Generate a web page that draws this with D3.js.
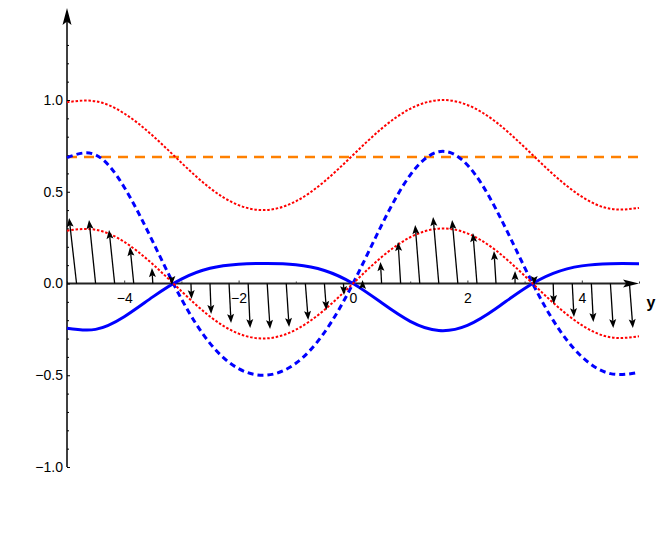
<!DOCTYPE html>
<html>
<head>
<meta charset="utf-8">
<script src="https://cdn.jsdelivr.net/npm/d3@7"></script>
<style>
body { margin: 0; background: #fff; }
text { font-family: "Liberation Sans", Arial, sans-serif; }
</style>
</head>
<body>
<div id="chart"></div>
<script>
/*
    Default variables
*/
var width = 664;
var height = 533;

/* sample positions along y, and the curves */
var xs = [-5, -4.5, -4, -3.5, -3, -2.5, -2, -1.5, -1, -0.5, 0, 0.5, 1, 1.5, 2, 2.5, 3, 3.5, 4, 4.5, 5];
var surface = [0.988, 0.993, 0.927, 0.805, 0.658, 0.520, 0.427, 0.401, 0.448, 0.556, 0.700, 0.844, 0.952, 0.999, 0.973, 0.880, 0.742, 0.595, 0.473, 0.407, 0.412];
var meanLevel = [0.69, 0.69];
var meanX = [-5, 5];
var elevation = [0.288, 0.293, 0.227, 0.105, -0.042, -0.180, -0.273, -0.299, -0.252, -0.144, 0, 0.144, 0.252, 0.299, 0.273, 0.180, 0.042, -0.105, -0.227, -0.293, -0.288];
var blueDashed = [0.686, 0.701, 0.525, 0.228, -0.084, -0.326, -0.464, -0.499, -0.435, -0.267, 0, 0.318, 0.591, 0.718, 0.646, 0.405, 0.088, -0.201, -0.399, -0.491, -0.484];
var blueSolid = [-0.244, -0.250, -0.181, -0.073, 0.024, 0.083, 0.105, 0.109, 0.102, 0.071, 0, -0.105, -0.206, -0.256, -0.228, -0.136, -0.027, 0.055, 0.096, 0.108, 0.108];

/* the little arrows sitting on the axis */
var arrowX = [-4.833, -4.5, -4.167, -3.833, -3.5, -3.167, -2.833, -2.5, -2.167, -1.833, -1.5, -1.167, -0.833, -0.5, -0.167,
              0.167, 0.5, 0.833, 1.167, 1.5, 1.833, 2.167, 2.5, 2.833, 3.167, 3.5, 3.833, 4.167, 4.5, 4.833];
var arrowU = [-0.13, -0.115, -0.098, -0.065, -0.015, 0, 0.01, 0.02, 0.035, 0.035, 0.05, 0.05, 0.05, 0.035, 0.01,
              0, -0.02, -0.045, -0.08, -0.1, -0.1, -0.07, -0.035, 0, 0, 0.01, 0.03, 0.035, 0.05, 0.06];
var arrowV = [0.357, 0.346, 0.292, 0.199, 0.084, -0.008, -0.085, -0.166, -0.215, -0.243, -0.248, -0.237, -0.199, -0.144, -0.063,
              0.019, 0.117, 0.226, 0.319, 0.362, 0.346, 0.275, 0.177, 0.068, -0.008, -0.112, -0.183, -0.21, -0.243, -0.243];

/* ticks */
var xMajorTicks = [-4, -2, 0, 2, 4];
var xMinorTicks = [-5, -3, -1, 1, 3, 5];
var xTickLabels = ["\u22124", "\u22122", "0", "2", "4"];
var yMajorTicks = [-1, -0.5, 0, 0.5, 1];
var yMinorTicks = [-0.9, -0.8, -0.7, -0.6, -0.4, -0.3, -0.2, -0.1, 0.1, 0.2, 0.3, 0.4, 0.6, 0.7, 0.8, 0.9, 1.1, 1.2, 1.3];
var yTickLabels = ["\u22121.0", "\u22120.5", "0.0", "0.5", "1.0"];

var x = d3.scaleLinear().domain([-5, 5]).range([67, 639]);
var y = d3.scaleLinear().domain([-1, 1]).range([467, 100]);

var svg = d3.select("#chart")
    .append("svg")
    .attr("width", width)
    .attr("height", height);

/* arrow head polygon with a small notch at the back */
function headPoints(tx, ty, dx, dy, len, half) {
    var n = Math.sqrt(dx * dx + dy * dy) || 1;
    var ux = dx / n, uy = dy / n;
    var bx = tx - ux * len, by = ty - uy * len;
    return [
        [tx, ty],
        [bx - uy * half, by + ux * half],
        [tx - ux * len * 0.8, ty - uy * len * 0.8],
        [bx + uy * half, by - ux * half]
    ];
}

/*
    Axes
*/
var gx = svg.append("g").attr("transform", "translate(0," + y(0) + ")");
gx.append("line")
    .attr("x1", x(-5)).attr("x2", x(5) - 12)
    .attr("stroke", "#222").attr("stroke-width", 2);
gx.append("polygon")
    .attr("points", headPoints(x(5), 0, 1, 0, 16, 4).join(" "))
    .attr("fill", "#000");

var xMinor = d3.axisBottom(x).tickValues(xMinorTicks).tickSizeInner(-2).tickSizeOuter(0).tickFormat("");
var xMajor = d3.axisBottom(x).tickValues(xMajorTicks).tickSizeInner(-3).tickSizeOuter(0).tickPadding(10)
    .tickFormat(function (d, i) { return xTickLabels[i]; });
gx.append("g").call(xMinor);
gx.append("g").call(xMajor);
gx.selectAll(".domain").remove();
gx.selectAll(".tick line").attr("stroke", "#333").attr("stroke-width", 1);
gx.selectAll(".tick text")
    .style("font-size", "14px")
    .style("font-family", "'Liberation Sans', Arial, sans-serif")
    .attr("fill", "#000");

gx.append("text")
    .attr("x", 651).attr("y", 24)
    .attr("text-anchor", "middle")
    .style("font-size", "16px")
    .attr("font-weight", "bold")
    .text("y");

var gy = svg.append("g").attr("transform", "translate(" + x(-5) + ",0)");
gy.append("line")
    .attr("y1", y(-1)).attr("y2", 20)
    .attr("stroke", "#000").attr("stroke-width", 1.5);
gy.append("polygon")
    .attr("points", headPoints(0, 8, 0, -1, 17, 4.5).join(" "))
    .attr("fill", "#000");

var yMinor = d3.axisLeft(y).tickValues(yMinorTicks).tickSizeInner(-2).tickSizeOuter(0).tickFormat("");
var yMajor = d3.axisLeft(y).tickValues(yMajorTicks).tickSizeInner(-3).tickSizeOuter(0).tickPadding(4)
    .tickFormat(function (d, i) { return yTickLabels[i]; });
gy.append("g").call(yMinor);
gy.append("g").call(yMajor);
gy.selectAll(".domain").remove();
gy.selectAll(".tick line").attr("stroke", "#000").attr("stroke-width", 1);
gy.selectAll(".tick text")
    .style("font-size", "14px")
    .style("font-family", "'Liberation Sans', Arial, sans-serif")
    .attr("fill", "#000");

/*
    Curves
*/
function curvePath(values, xv) {
    var pts = values.map(function (v, i) { return [xv[i], v]; });
    return d3.line()
        .x(function (d) { return x(d[0]); })
        .y(function (d) { return y(d[1]); })
        .curve(d3.curveNatural)(pts);
}

svg.append("path")
    .attr("d", curvePath(meanLevel, meanX))
    .attr("fill", "none").attr("stroke", "#ff8000")
    .attr("stroke-width", 2.5).attr("stroke-dasharray", "10,7");

svg.append("path")
    .attr("d", curvePath(blueSolid, xs))
    .attr("fill", "none").attr("stroke", "#0000ff")
    .attr("stroke-width", 3);

svg.append("path")
    .attr("d", curvePath(blueDashed, xs))
    .attr("fill", "none").attr("stroke", "#0000ff")
    .attr("stroke-width", 3).attr("stroke-dasharray", "6,4");

svg.append("path")
    .attr("d", curvePath(surface, xs))
    .attr("fill", "none").attr("stroke", "#ff0000")
    .attr("stroke-width", 2).attr("stroke-dasharray", "2.5,1.8");

svg.append("path")
    .attr("d", curvePath(elevation, xs))
    .attr("fill", "none").attr("stroke", "#ff0000")
    .attr("stroke-width", 2).attr("stroke-dasharray", "2.5,1.8");

/*
    Vector arrows
*/
var HEAD_LEN = 9, HEAD_HALF = 3.5;
var ga = svg.append("g");
arrowX.forEach(function (ax, i) {
    var x0 = x(ax), y0 = y(0);
    var x1 = x(ax + arrowU[i]), y1 = y(arrowV[i]);
    var dx = x1 - x0, dy = y1 - y0;
    var len = Math.sqrt(dx * dx + dy * dy);
    if (len < 0.01) { dx = 0; dy = arrowV[i] < 0 ? 1 : -1; len = 1; }
    if (len > HEAD_LEN * 0.8) {
        ga.append("line")
            .attr("x1", x0).attr("y1", y0)
            .attr("x2", x1 - dx / len * HEAD_LEN * 0.8)
            .attr("y2", y1 - dy / len * HEAD_LEN * 0.8)
            .attr("stroke", "#000").attr("stroke-width", 1.3);
    }
    ga.append("polygon")
        .attr("points", headPoints(x1, y1, dx, dy, HEAD_LEN, HEAD_HALF).join(" "))
        .attr("fill", "#000");
});
</script>
</body>
</html>
